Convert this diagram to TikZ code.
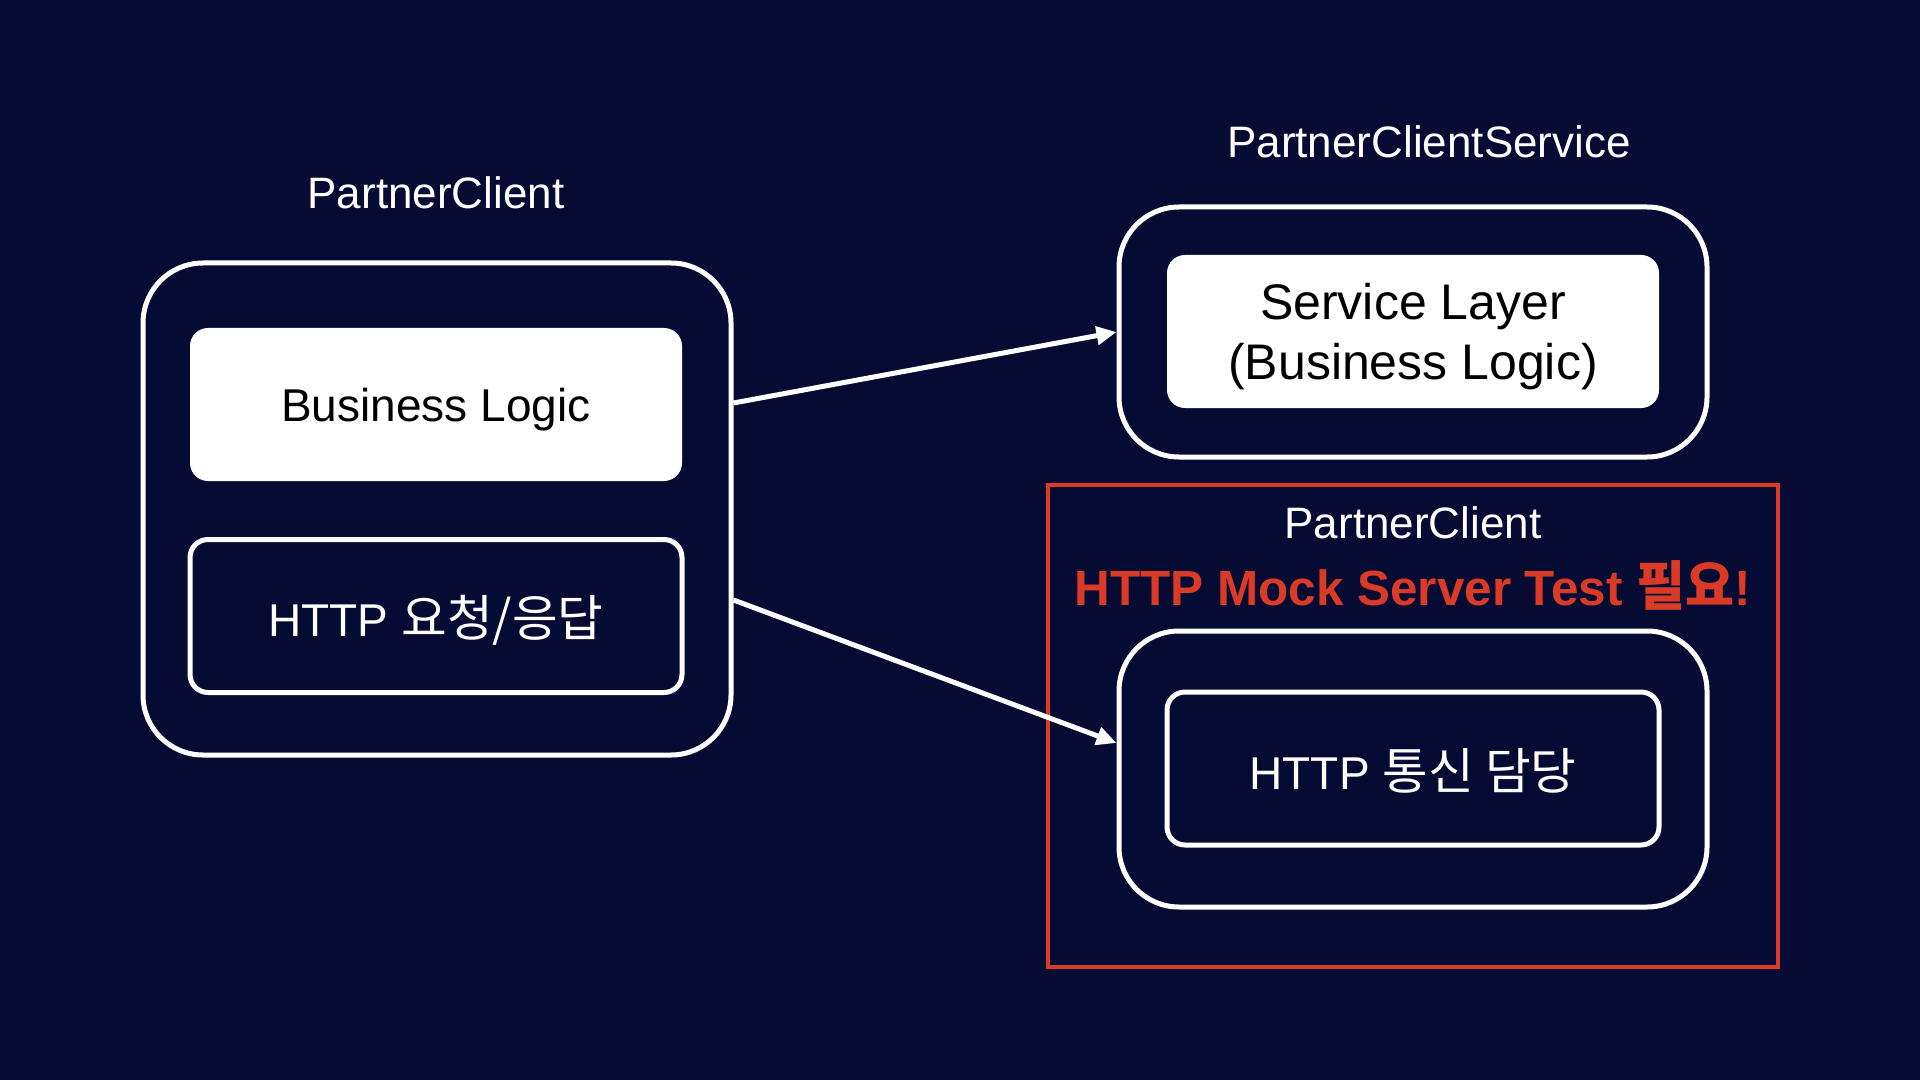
\documentclass[tikz,border=0pt]{standalone}
\usepackage{fontspec}
\setmainfont{Liberation Sans}
\newfontfamily\krfont[Scale=1.08]{Noto Sans CJK KR}
\usepackage{tikz}
\usetikzlibrary{arrows.meta}
\definecolor{navy}{RGB}{5,11,51}
\definecolor{alertred}{RGB}{218,58,38}

\begin{document}
\begin{tikzpicture}[x=0.5pt, y=-0.5pt, font=\fontsize{23}{28}\selectfont,
        outer/.style={draw=white, line width=2.5pt, rounded corners=30pt, minimum width=294pt},
        inner/.style={line width=2.5pt, rounded corners=9pt, minimum width=246pt, minimum height=76.5pt, align=center, text depth=0pt},
        whitebox/.style={inner, fill=white, text=black},
        darkbox/.style={inner, draw=white, fill=navy, text=white},
        caption/.style={text=white, font=\fontsize{22}{26}\selectfont},
        link/.style={draw=white, line width=2.5pt, -{Triangle[length=10pt, width=9pt]}}]
        \fill[navy] (0,0) rectangle (1920,1080);

        \node[caption] (clientlabel) at (436,193) {PartnerClient};
        \node[outer, minimum height=246pt] (client) at (437,509) {};
        \node[whitebox] (logic) at (436,404.5) {Business Logic};
        \node[darkbox] (http) at (436,616) {HTTP {\krfont 요청/응답}};

        \node[caption] (servicelabel) at (1429,142) {PartnerClientService};
        \node[outer, minimum height=125pt] (service) at (1413,332) {};
        \node[whitebox, font=\fontsize{25}{30}\selectfont] (layer) at (1413,331.5) {Service Layer\\(Business Logic)};

        \node[draw=alertred, line width=2pt, minimum width=365pt, minimum height=241pt] (mockframe) at (1413,726) {};
        \node[caption] (mocklabel) at (1413,523) {PartnerClient};
        \node[text=alertred, font=\fontsize{24.7}{29}\selectfont\bfseries] (mocknote) at (1413,585) {HTTP Mock Server Test {\krfont 필요}!};
        \node[outer, minimum height=138pt] (mock) at (1413,769) {};
        \node[darkbox] (comm) at (1413,768.5) {HTTP {\krfont 통신 담당}};

        \draw[link] ([yshift=53pt]client.east) -- (service.west);
        \draw[link] ([yshift=-45.5pt]client.east) -- ([yshift=13pt]mock.west);
    \end{tikzpicture}
\end{document}
